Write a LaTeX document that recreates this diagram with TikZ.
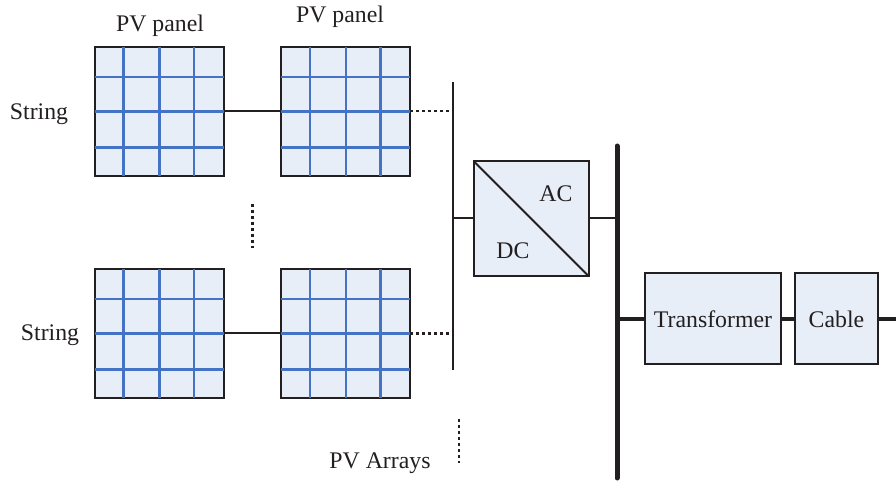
\documentclass[tikz,border=0pt]{standalone}
\usepackage{fontspec}
\setmainfont{Liberation Serif}
\usetikzlibrary{positioning}
\definecolor{panelfill}{HTML}{E8EEF7}
\definecolor{gridblue}{HTML}{4472C4}
\definecolor{inkblack}{HTML}{231F20}

\begin{document}
\begin{tikzpicture}[
        x=0.5pt, y=-0.5pt,
        every node/.style={text=inkblack, font=\fontsize{11.9}{14}\selectfont},
        panelbox/.style={rectangle, draw=inkblack, fill=panelfill, line width=1pt, minimum width=64.5pt, minimum height=64.5pt, inner sep=0pt, outer sep=0pt},
        blockbox/.style={rectangle, draw=inkblack, fill=panelfill, line width=1pt, minimum height=45.5pt, inner sep=0pt, outer sep=0pt, align=center},
        gridline/.style={draw=gridblue, line width=1.25pt},
        wire/.style={draw=inkblack, line width=1pt},
        heavywire/.style={draw=inkblack, line width=2pt},
        dotwire/.style={draw=inkblack, line width=1.1pt, dash pattern=on 1.5pt off 1.5pt}
    ]
    \useasboundingbox (0,0) rectangle (896,481);

    % PV panels with their cell grid
    \foreach \pname/\px/\py in {pva/159/111.4, pvb/345.5/111.4, pvc/159/333.5, pvd/345.5/333.5} {
        \node[panelbox] (\pname) at (\px,\py) {};
        \foreach \gx in {-35.5,0.5,35} \draw[gridline] (\px+\gx,\py-64.5) -- (\px+\gx,\py+64.5);
        \foreach \gy in {-34.4,0,36} \draw[gridline] (\px-64.5,\py+\gy) -- (\px+64.5,\py+\gy);
    }

    % Converter and output blocks
    \node[blockbox, minimum width=57.5pt, minimum height=57.5pt] (conv) at (531,218.5) {};
    \node at (556,194) (aclabel) {AC};
    \node at (513,251) (dclabel) {DC};
    \node[blockbox, minimum width=68pt] (trafo) at (713,319) {Transformer};
    \node[blockbox, minimum width=41.5pt] (cable) at (836.5,319) {Cable};

    % Bus bars
    \coordinate (dctop) at (453,82);
    \coordinate (dcbot) at (453,370);
    \coordinate (actop) at (617,146);
    \coordinate (acbot) at (617,478);
    \coordinate (gridend) at (896,319);
    \draw[wire] (dctop) -- (dcbot);
    \draw[heavywire, line width=2.5pt, line cap=round] (actop) -- (acbot);

    % Connections
    \draw[wire] (pva) -- (pvb);
    \draw[wire] (pvc) -- (pvd);
    \draw[dotwire] (pvb.east) -- (pvb.east -| dctop);
    \draw[dotwire] (pvd.east) -- (pvd.east -| dctop);
    \draw[wire] (conv.west) -- (conv.west -| dctop);
    \draw[wire] (conv.east) -- (conv.east -| actop);
    \draw[wire] (conv.north west) -- (conv.south east);
    \draw[heavywire] (trafo.west) -- (trafo.west -| actop);
    \draw[heavywire] (trafo) -- (cable);
    \draw[heavywire] (cable) -- (gridend);

    % Dotted continuation marks
    \coordinate (dotatop) at (252.5,204);
    \coordinate (dotabot) at (252.5,248);
    \coordinate (dotbtop) at (459,419);
    \coordinate (dotbbot) at (459,463);
    \draw[dotwire] (dotatop) -- (dotabot);
    \draw[dotwire] (dotbtop) -- (dotbbot);

    % Labels
    \node at (160,26) (panellabela) {PV panel};
    \node at (340,17) (panellabelb) {PV panel};
    \node at (39,114) (stringa) {String};
    \node at (50,335) (stringb) {String};
    \node at (380,463) (arrays) {PV Arrays};
\end{tikzpicture}
\end{document}
